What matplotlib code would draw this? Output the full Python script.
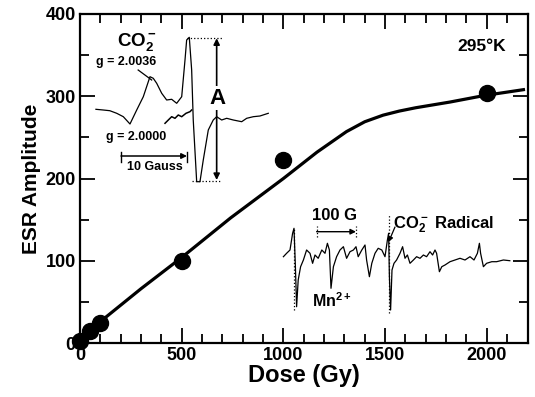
import matplotlib.pyplot as plt
from matplotlib.ticker import MultipleLocator

plt.rcParams['font.family'] = ['Liberation Sans', 'DejaVu Sans']
plt.rcParams['font.weight'] = 'bold'
plt.rcParams['mathtext.fontset'] = 'custom'
plt.rcParams['mathtext.rm'] = 'Liberation Sans:bold'
plt.rcParams['mathtext.it'] = 'Liberation Sans:bold'
plt.rcParams['mathtext.bf'] = 'Liberation Sans:bold'
plt.rcParams['mathtext.default'] = 'bf'

# measured points (dose in Gy, ESR amplitude)
dose = [0, 50, 100, 500, 1000, 2000]
amp = [3, 15, 24, 100, 222, 304]

# hand-drawn dose response curve
fit_dose = [0, 120, 300, 500, 740, 1000, 1165, 1310, 1400, 1490, 1570, 1650, 1820, 1990, 2180]
fit_amp = [2, 30, 66, 104, 152, 200, 232, 257, 269, 277, 282, 286, 293, 301, 308]

# CO2- spectrum (field offset in Gauss, signal a.u.)
co2_field = [-3.8, -2.7, -1.7, -0.65, 0.35, 1.36, 2.38, 3.38, 4.39, 4.89, 5.41, 6.17,
             6.92, 7.68, 8.44, 9.2, 9.7, 9.95, 10.35, 10.71, 10.95, 11.47, 11.97,
             12.47, 13.23, 13.98, 14.5, 15.26, 16.02, 17.02, 18.29, 19.05, 20.05,
             21.06, 22.32]
co2_sig = [2.7, 2, 1.3, -1.3, -4.7, -12, 2, 15.3, 35.3, 33.7, 28.7, 18.7,
           12, 12.7, 8.7, 15.3, 52, 72, 74.7, 42, -8, -69.7, -69.7,
           -48, -18, -8, -4.7, -8, -6.3, -8, -9.7, -6.3, -4.7,
           -4, -1.3]
ref_field = [6.67, 7.17, 7.68, 8.18, 8.68, 9.2, 9.85, 10.45, 10.71]
ref_sig = [-11.3, -8, -4.7, -6.3, -3, -4.7, -1.3, 0.3, 2]

# wide scan with Mn2+ lines (field in Gauss, signal a.u.)
mn_field = [1, 9, 17.5, 24, 27.5, 31, 34, 38, 44, 51, 59, 67.5, 74, 80, 88, 97, 105,
            111, 116, 120, 126, 134, 142.5, 151, 159, 167.5, 176, 182.5, 188, 197,
            205, 209, 216, 222, 230, 238, 247, 255, 261, 264, 266, 269, 272.5, 277.5,
            284, 292.5, 299, 305, 311, 317.5, 326, 334, 342.5, 351, 359, 367.5, 374,
            380, 384, 391, 397, 405, 417.5, 430, 442.5, 455, 467.5, 477.5, 486, 491,
            494, 501, 509, 522, 534, 551, 567]
mn_sig = [3.3, 6.7, 10, 26.7, 31.7, -6.7, -46.7, -20, -6.7, 0, 10, 6.7, -3.3, 5, 1.7,
          10, 6.7, 16.7, 10, -28.3, -6.7, 3.3, 10, 13.3, 1.7, 8.3, 10, 13.3, 3.3, 10,
          15, 0, -16.7, -3.3, 6.7, 11.7, 10, 3.3, 20, 26.7, -16.7, -50, -10, -3.3,
          0, 6.7, 13.3, 1.7, 5, -3.3, 0, 3.3, 1.7, 5, 3.3, 8.3, 5,
          10, 6.7, -11.7, -6.7, -5, -1.7, 0, 1.7, 0, 3.3, 0, 6.7, 16.7,
          6.7, -6.7, -3.3, -1.7, -1.7, 0, -0.7]

fig = plt.figure(figsize=(5.35, 3.97), dpi=100)
ax = fig.add_axes([80 / 535, 1 - 343 / 397, 447.5 / 535, 329 / 397])

ax.plot(fit_dose, fit_amp, color='black', lw=2.3, zorder=2)
ax.plot(dose, amp, 'o', color='black', markersize=11.5, zorder=3, clip_on=False)

ax.set_xlim(0, 2200)
ax.set_ylim(0, 400)
ax.set_xticks([0, 500, 1000, 1500, 2000])
ax.set_yticks([0, 100, 200, 300, 400])
ax.xaxis.set_minor_locator(MultipleLocator(100))
ax.yaxis.set_minor_locator(MultipleLocator(50))
ax.tick_params(which='both', direction='in', top=True, right=True, width=1.3,
               labelsize=13)
ax.tick_params(which='major', length=11)
ax.tick_params(which='minor', length=6.5)
ax.tick_params(axis='x', which='major', pad=3)
ax.tick_params(axis='y', which='major', pad=3)
for s in ax.spines.values():
    s.set_linewidth(1.6)
ax.set_xlabel('Dose (Gy)', fontsize=17, fontweight='bold', labelpad=0)
ax.set_ylabel('ESR Amplitude', fontsize=15, fontweight='bold', labelpad=3)
ax.text(1975, 361, '295°K', fontsize=12.5, ha='center', va='center')

# inset: CO2- line shape
ax1 = fig.add_axes([90 / 535, 1 - 190 / 397, 190 / 535, 160 / 397])
ax1.set_axis_off()
ax1.set_xlim(-4.7, 24.1)
ax1.set_ylim(-78, 82)
ax1.plot(co2_field, co2_sig, color='black', lw=0.9)
ax1.plot(ref_field, ref_sig, color='black', lw=1.1)
ax1.plot([9.95, 15.5], [73.7, 73.7], color='black', lw=0.9, ls=':')
ax1.plot([10.7, 15.0], [-69, -69], color='black', lw=0.9, ls=':')
ax1.annotate('', xy=(14.5, 73.7), xytext=(14.5, -68),
             arrowprops=dict(arrowstyle='<|-|>', color='black', lw=1.2,
                             mutation_scale=9, shrinkA=0, shrinkB=0))
ax1.text(14.7, 14, 'A', fontsize=16, ha='center', va='center',
         bbox=dict(facecolor='white', edgecolor='none', pad=1))
ax1.text(2.4, 70, 'CO$_2^-$', fontsize=13.5, ha='center', va='center')
ax1.text(0.76, 49.5, 'g = 2.0036', fontsize=9, ha='center', va='center')
ax1.plot([2.6, 4.65], [42, 32], color='black', lw=0.9)
ax1.text(2.27, -25, 'g = 2.0000', fontsize=9, ha='center', va='center')
ax1.annotate('', xy=(10, -44), xytext=(0, -44),
             arrowprops=dict(arrowstyle='-|>', color='black', lw=1.1,
                             mutation_scale=8, shrinkA=0, shrinkB=0))
ax1.plot([0, 0], [-40, -50], color='black', lw=1.0)
ax1.plot([10, 10], [-40, -50], color='black', lw=1.0)
ax1.text(5.1, -55, '10 Gauss', fontsize=9, ha='center', va='center')

# inset: wide scan showing Mn2+ sextet
ax2 = fig.add_axes([275 / 535, 1 - 330 / 397, 245 / 535, 130 / 397])
ax2.set_axis_off()
ax2.set_xlim(-20, 592.5)
ax2.set_ylim(-70, 60)
ax2.plot(mn_field, mn_sig, color='black', lw=0.9)
ax2.plot([27.5, 27.5], [-50, 32], color='black', lw=0.9, ls=':')
ax2.plot([265, 265], [-53, 45], color='black', lw=0.9, ls=':')
ax2.annotate('', xy=(182.5, 28.3), xytext=(84, 28.3),
             arrowprops=dict(arrowstyle='-|>', color='black', lw=1.0,
                             mutation_scale=8, shrinkA=0, shrinkB=0))
ax2.plot([84, 84], [23, 34], color='black', lw=0.9, ls=':')
ax2.plot([182.5, 182.5], [23, 34], color='black', lw=0.9, ls=':')
ax2.text(130, 45, '100 G', fontsize=12, ha='center', va='center')
ax2.text(122, -41, 'Mn$^{2+}$', fontsize=11.5, ha='center', va='center')
ax2.text(275, 35, 'CO$_2^-$ Radical', fontsize=12, ha='left', va='center')
ax2.annotate('', xy=(264, 18), xytext=(280, 33),
             arrowprops=dict(arrowstyle='-|>', color='black', lw=0.9,
                             mutation_scale=7, shrinkA=0, shrinkB=0))

fig.savefig('out.png', dpi=100)
